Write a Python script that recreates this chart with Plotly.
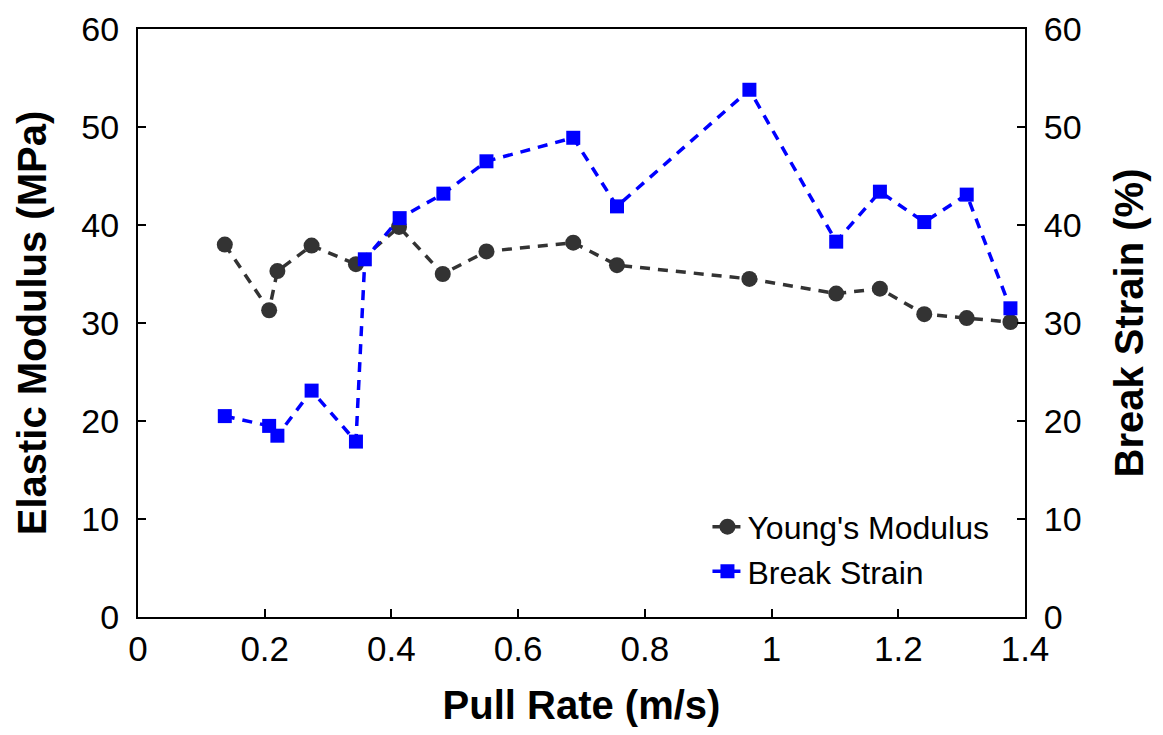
import plotly.graph_objects as go

# Data
ym_x = [0.137, 0.207, 0.220, 0.274, 0.344, 0.412, 0.481, 0.550, 0.687, 0.756, 0.965, 1.102, 1.171, 1.241, 1.308, 1.377]
ym_y = [38.0, 31.3, 35.3, 37.9, 36.0, 39.8, 35.0, 37.3, 38.2, 35.9, 34.5, 33.0, 33.5, 30.9, 30.5, 30.1]

bs_x = [0.137, 0.207, 0.220, 0.274, 0.344, 0.358, 0.413, 0.482, 0.550, 0.687, 0.756, 0.965, 1.102, 1.171, 1.241, 1.308, 1.377]
bs_y = [20.5, 19.5, 18.5, 23.1, 17.9, 36.5, 40.7, 43.2, 46.5, 48.9, 41.9, 53.8, 38.3, 43.4, 40.3, 43.1, 31.5]

x_ticks = [0, 0.2, 0.4, 0.6, 0.8, 1, 1.2, 1.4]
x_labels = ["0", "0.2", "0.4", "0.6", "0.8", "1", "1.2", "1.4"]
y_ticks = [0, 10, 20, 30, 40, 50, 60]

FONT = "Liberation Sans, Arial, sans-serif"

fig = go.Figure()
fig.add_trace(go.Scatter(
    x=ym_x, y=ym_y, name="Young's Modulus", mode="lines+markers",
    line=dict(color="#333333", width=3.5, dash="10px,8px"),
    marker=dict(symbol="circle", size=16, color="#333333"),
))
fig.add_trace(go.Scatter(
    x=bs_x, y=bs_y, name="Break Strain", mode="lines+markers", yaxis="y2",
    line=dict(color="#0000ff", width=3.5, dash="10px,8px"),
    marker=dict(symbol="square", size=14, color="#0000ff"),
))

axis_common = dict(
    showline=True, linecolor="black", linewidth=2, ticks="inside", ticklen=8,
    tickwidth=1.5, tickcolor="black", showgrid=False, zeroline=False,
    automargin=False, ticklabeloverflow="allow",
)

fig.update_layout(
    width=1163, height=735,
    # page body adds an 8px offset; compensate so the plot frame lands near 138..1025 x 29..617
    margin=dict(l=130, r=146, t=21, b=126),
    paper_bgcolor="white", plot_bgcolor="white",
    font=dict(family=FONT, color="black"),
    xaxis=dict(
        range=[0, 1.4], tickvals=x_ticks, ticktext=x_labels, mirror=True,
        tickfont=dict(size=35),
        title=dict(text="<b>Pull Rate (m/s)</b>", font=dict(size=40), standoff=24),
        **axis_common,
    ),
    yaxis=dict(
        range=[0, 60], tickvals=y_ticks, tickfont=dict(size=34),
        title=dict(text="<b>Elastic Modulus (MPa)</b>", font=dict(size=40), standoff=22),
        ticklabelstandoff=10,
        **axis_common,
    ),
    yaxis2=dict(
        range=[0, 60], tickvals=y_ticks, tickfont=dict(size=34), overlaying="y", side="right",
        title=dict(text="<b>Break Strain (%)</b>", font=dict(size=40), standoff=34),
        ticklabelstandoff=10,
        **axis_common,
    ),
    legend=dict(
        x=0.642, y=0.2, xanchor="left", yanchor="top",
        font=dict(size=32), bgcolor="rgba(0,0,0,0)", tracegroupgap=0,
        itemwidth=30,
    ),
)

fig.write_html("out.html")
